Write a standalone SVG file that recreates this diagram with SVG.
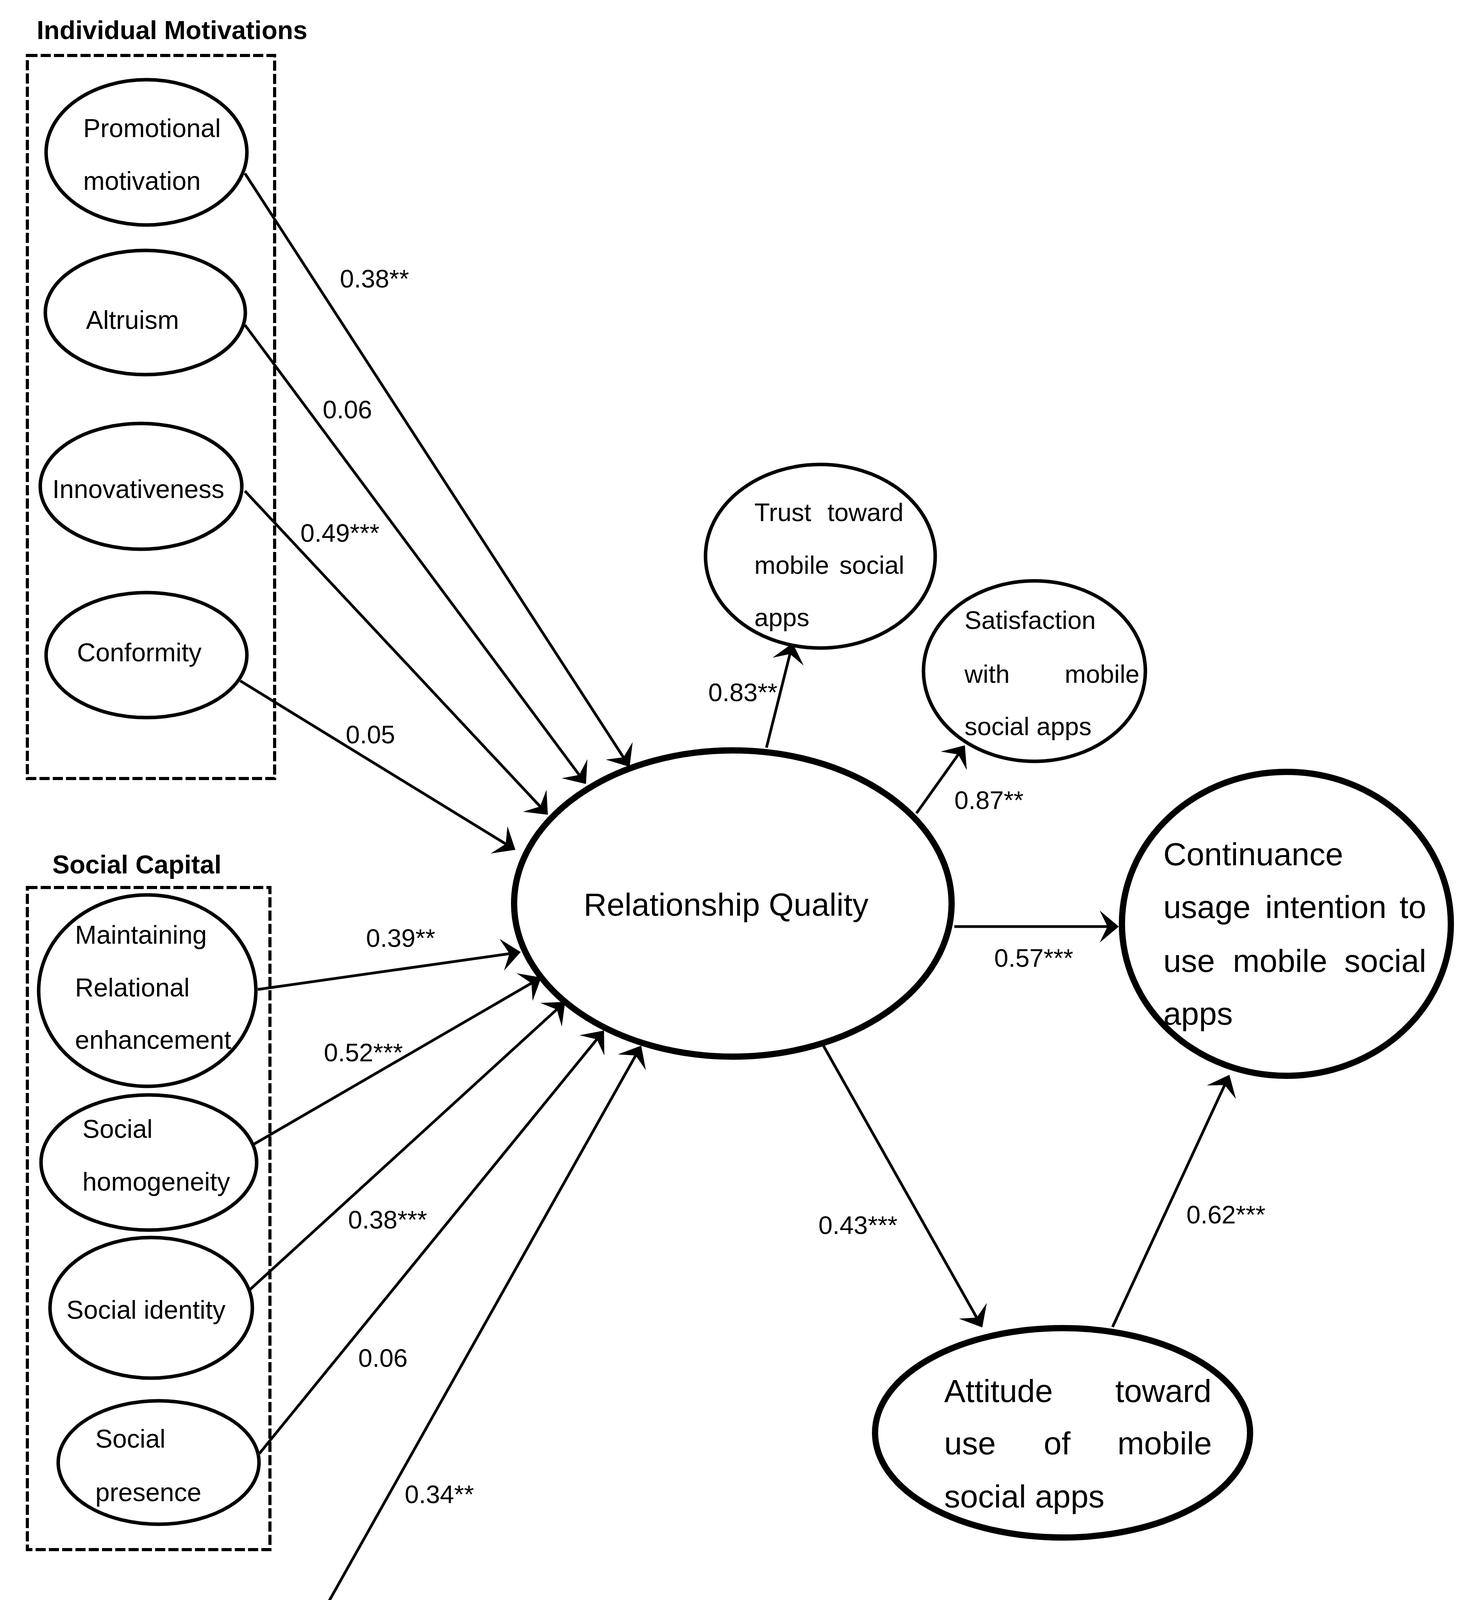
<svg xmlns="http://www.w3.org/2000/svg" width="3763" height="4656" viewBox="0 0 3763 4656">
<style>
text{font-family:"Liberation Sans",Arial,sans-serif;fill:#000}
.t{font-weight:bold;font-size:66px}
.n{font-size:66px}
.m{font-size:65px}
.b{font-size:82px}
.l{font-size:65px}
.box{fill:none;stroke:#000;stroke-width:8;stroke-dasharray:26 8}
.e{fill:#fff;stroke:#000;stroke-width:9}
.eb{fill:#fff;stroke:#000;stroke-width:16}
.c{stroke:#000;stroke-width:7;fill:none;marker-end:url(#ah)}
</style>
<defs>
<marker id="ah" markerUnits="userSpaceOnUse" viewBox="-55 -45 62 90" refX="-5" refY="0" markerWidth="62" markerHeight="90" orient="auto">
<path d="M0,0 L-49,-41 L-29,0 L-49,41 Z" fill="#000"/>
</marker>
</defs>
<rect width="3763" height="4656" fill="#fff"/>

<g id="groups">
<text class="t" x="94" y="100">Individual Motivations</text>
<rect class="box" x="70" y="142" width="633" height="1851"/>
<text class="t" x="134" y="2236">Social Capital</text>
<rect class="box" x="70" y="2272" width="621" height="1695"/>
<text class="t" x="154" y="4170">Service Factor</text>
<rect class="box" x="99" y="4196" width="632" height="408"/>
</g>

<g id="connectors">
<line class="c" x1="627" y1="444" x2="1609" y2="1959"/>
<line class="c" x1="627" y1="832" x2="1497" y2="2003"/>
<line class="c" x1="627" y1="1257" x2="1399" y2="2082"/>
<line class="c" x1="615" y1="1743" x2="1315" y2="2173"/>
<line class="c" x1="660" y1="2533" x2="1328" y2="2438"/>
<line class="c" x1="638" y1="2936" x2="1381" y2="2505"/>
<line class="c" x1="638" y1="3303" x2="1443" y2="2568"/>
<line class="c" x1="664" y1="3721" x2="1543" y2="2642"/>
<line class="c" x1="673" y1="4400" x2="1639" y2="2681"/>
<line class="c" x1="1962" y1="1914" x2="2028" y2="1651"/>
<line class="c" x1="2346" y1="2082" x2="2467" y2="1912"/>
<line class="c" x1="2443" y1="2372" x2="2859" y2="2372"/>
<line class="c" x1="2105" y1="2672" x2="2512" y2="3394"/>
<line class="c" x1="2848" y1="3397" x2="3145" y2="2756"/>
<text class="l" x="870" y="736">0.38**</text>
<text class="l" x="826" y="1071">0.06</text>
<text class="l" x="769" y="1387">0.49***</text>
<text class="l" x="885" y="1903">0.05</text>
<text class="l" x="937" y="2424">0.39**</text>
<text class="l" x="829" y="2717">0.52***</text>
<text class="l" x="891" y="3145">0.38***</text>
<text class="l" x="917" y="3499">0.06</text>
<text class="l" x="1036" y="3848">0.34**</text>
<text class="l" x="1813" y="1795">0.83**</text>
<text class="l" x="2443" y="2071">0.87**</text>
<text class="l" x="2545" y="2475">0.57***</text>
<text class="l" x="2095" y="3159">0.43***</text>
<text class="l" x="3037" y="3132">0.62***</text>
</g>

<g id="promotional">
<ellipse class="e" cx="375" cy="390" rx="257" ry="186"/>
<text class="n" x="213" y="351">Promotional</text>
<text class="n" x="213" y="486">motivation</text>
</g>
<g id="altruism">
<ellipse class="e" cx="372" cy="800" rx="256" ry="159"/>
<text class="n" x="220" y="842">Altruism</text>
</g>
<g id="innovativeness">
<ellipse class="e" cx="361" cy="1245" rx="258" ry="161"/>
<text class="n" x="134" y="1275">Innovativeness</text>
</g>
<g id="conformity">
<ellipse class="e" cx="375" cy="1677" rx="257" ry="160"/>
<text class="n" x="197" y="1693">Conformity</text>
</g>

<g id="maintaining">
<ellipse class="e" cx="377" cy="2536" rx="278" ry="245"/>
<text class="n" x="192" y="2416">Maintaining</text>
<text class="n" x="192" y="2551">Relational</text>
<text class="n" x="192" y="2685">enhancement</text>
</g>
<g id="homogeneity">
<ellipse class="e" cx="381" cy="2976" rx="276" ry="173"/>
<text class="n" x="211" y="2913">Social</text>
<text class="n" x="211" y="3048">homogeneity</text>
</g>
<g id="identity">
<ellipse class="e" cx="387" cy="3348" rx="259" ry="180"/>
<text class="n" x="170" y="3376">Social identity</text>
</g>
<g id="presence">
<ellipse class="e" cx="406" cy="3744" rx="257" ry="158"/>
<text class="n" x="244" y="3706">Social</text>
<text class="n" x="244" y="3843">presence</text>
</g>
<g id="usefulness">
<ellipse class="e" cx="411" cy="4392" rx="257" ry="161"/>
<text class="n" x="269" y="4336">Service</text>
<text class="n" x="269" y="4472">usefulness</text>
</g>

<g id="relationship-quality">
<ellipse class="eb" cx="1876" cy="2313" rx="560" ry="392"/>
<text class="b" x="1494" y="2344">Relationship Quality</text>
</g>
<g id="trust">
<ellipse class="e" cx="2100" cy="1424" rx="294" ry="235"/>
<text class="m" x="1931" y="1334">Trust</text>
<text class="m" x="2313" y="1334" text-anchor="end">toward</text>
<text class="m" x="1931" y="1469">mobile</text>
<text class="m" x="2315" y="1469" text-anchor="end">social</text>
<text class="m" x="1931" y="1603">apps</text>
</g>
<g id="satisfaction">
<ellipse class="e" cx="2648" cy="1718" rx="284" ry="231"/>
<text class="m" x="2469" y="1610">Satisfaction</text>
<text class="m" x="2469" y="1748">with</text>
<text class="m" x="2917" y="1748" text-anchor="end">mobile</text>
<text class="m" x="2469" y="1882">social apps</text>
</g>
<g id="continuance">
<ellipse class="eb" cx="3293" cy="2365" rx="421" ry="389"/>
<text class="b" x="2978" y="2215">Continuance</text>
<text class="b" x="2978" y="2350">usage</text>
<text class="b" x="3239" y="2350">intention</text>
<text class="b" x="3651" y="2350" text-anchor="end">to</text>
<text class="b" x="2978" y="2488">use</text>
<text class="b" x="3156" y="2488">mobile</text>
<text class="b" x="3651" y="2488" text-anchor="end">social</text>
<text class="b" x="2978" y="2623">apps</text>
</g>
<g id="attitude">
<ellipse class="eb" cx="2720" cy="3668" rx="480" ry="268"/>
<text class="b" x="2417" y="3589">Attitude</text>
<text class="b" x="3101" y="3589" text-anchor="end">toward</text>
<text class="b" x="2417" y="3723">use</text>
<text class="b" x="2706" y="3723" text-anchor="middle">of</text>
<text class="b" x="3102" y="3723" text-anchor="end">mobile</text>
<text class="b" x="2417" y="3859">social apps</text>
</g>
</svg>
